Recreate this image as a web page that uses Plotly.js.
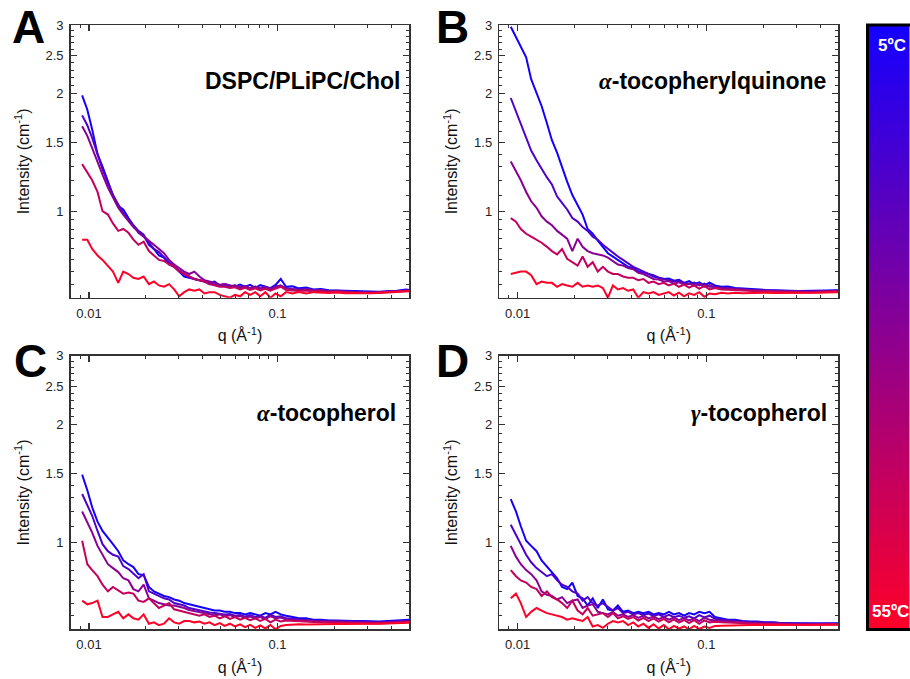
<!DOCTYPE html>
<html><head><meta charset="utf-8">
<script src="https://cdn.plot.ly/plotly-3.0.1.min.js"></script>
<style>html,body{margin:0;padding:0;background:#fff;} #chart{width:910px;height:679px;}</style>
</head><body><div id="chart"></div>
<script>
// ---- data ----
const q = [0.0092, 0.0098, 0.0104, 0.0111, 0.0118, 0.0126, 0.0134, 0.0143, 0.0152, 0.0162,
  0.0172, 0.0183, 0.0195, 0.0208, 0.0221, 0.0235, 0.025, 0.0266, 0.0283, 0.0301,
  0.032, 0.034, 0.0362, 0.0385, 0.041, 0.0436, 0.0464, 0.0494, 0.0525, 0.0559,
  0.0595, 0.0633, 0.0673, 0.0716, 0.0762, 0.081, 0.0862, 0.0917, 0.0976, 0.104,
  0.111, 0.12, 0.13, 0.142, 0.155, 0.17, 0.187, 0.206, 0.228, 0.252,
  0.28, 0.31, 0.345, 0.385, 0.43, 0.48, 0.5];

const curveTemps = ['5ºC', '17.5ºC', '30ºC', '42.5ºC', '55ºC'];
const curveColors = ['#1400ff', '#4f00c9', '#8a0094', '#c4005e', '#ff0028'];

// Panel A: DSPC/PLiPC/Chol
const A1 = [1.98, 1.82, 1.62, 1.40, 1.30, 1.19, 1.10, 1.03, 1.01, 0.96,
  0.92, 0.89, 0.87, 0.82, 0.80, 0.77, 0.76, 0.73, 0.72, 0.70,
  0.68, 0.675, 0.67, 0.665, 0.66, 0.655, 0.66, 0.645, 0.65, 0.645,
  0.64, 0.648, 0.64, 0.647, 0.636, 0.646, 0.64, 0.635, 0.647, 0.67,
  0.64, 0.642, 0.634, 0.637, 0.63, 0.632, 0.627, 0.626, 0.624, 0.622,
  0.621, 0.62, 0.621, 0.623, 0.625, 0.63, 0.628];
const A2 = [1.76, 1.66, 1.54, 1.40, 1.28, 1.18, 1.10, 1.04, 0.99, 0.95,
  0.92, 0.88, 0.86, 0.83, 0.80, 0.785, 0.76, 0.74, 0.72, 0.705,
  0.69, 0.68, 0.67, 0.665, 0.66, 0.65, 0.652, 0.644, 0.647, 0.64,
  0.645, 0.636, 0.641, 0.634, 0.64, 0.633, 0.641, 0.63, 0.64, 0.645,
  0.635, 0.632, 0.63, 0.631, 0.627, 0.628, 0.624, 0.625, 0.622, 0.621,
  0.62, 0.619, 0.62, 0.622, 0.624, 0.627, 0.626];
const A3 = [1.65, 1.56, 1.45, 1.33, 1.24, 1.15, 1.08, 1.02, 0.98, 0.94,
  0.91, 0.885, 0.86, 0.84, 0.82, 0.80, 0.78, 0.75, 0.73, 0.715,
  0.70, 0.69, 0.70, 0.68, 0.665, 0.66, 0.655, 0.648, 0.65, 0.642,
  0.646, 0.638, 0.643, 0.635, 0.641, 0.634, 0.638, 0.632, 0.64, 0.645,
  0.633, 0.63, 0.628, 0.63, 0.626, 0.627, 0.623, 0.624, 0.621, 0.62,
  0.619, 0.618, 0.619, 0.621, 0.623, 0.626, 0.625];
const A4 = [1.32, 1.26, 1.20, 1.12, 1.00, 0.98, 0.93, 0.89, 0.90, 0.88,
  0.845, 0.82, 0.835, 0.79, 0.77, 0.75, 0.745, 0.73, 0.72, 0.70,
  0.69, 0.68, 0.67, 0.665, 0.66, 0.65, 0.645, 0.64, 0.64, 0.635,
  0.638, 0.63, 0.636, 0.628, 0.634, 0.626, 0.632, 0.625, 0.633, 0.64,
  0.628, 0.627, 0.624, 0.626, 0.622, 0.623, 0.62, 0.621, 0.619, 0.618,
  0.617, 0.617, 0.618, 0.62, 0.622, 0.625, 0.624];
const A5 = [0.845, 0.845, 0.80, 0.77, 0.75, 0.725, 0.70, 0.655, 0.70, 0.69,
  0.675, 0.67, 0.68, 0.65, 0.66, 0.645, 0.64, 0.65, 0.63, 0.605,
  0.62, 0.63, 0.625, 0.63, 0.615, 0.62, 0.62, 0.61, 0.605, 0.60,
  0.61, 0.605, 0.62, 0.61, 0.62, 0.605, 0.62, 0.60, 0.615, 0.605,
  0.62, 0.615, 0.62, 0.615, 0.62, 0.618, 0.617, 0.619, 0.616, 0.617,
  0.616, 0.616, 0.617, 0.619, 0.621, 0.624, 0.623];

// Panel B: alpha-tocopherylquinone
const B1 = [2.97, 2.80, 2.66, 2.48, 2.18, 2.02, 1.86, 1.68, 1.52, 1.41,
  1.29, 1.19, 1.10, 1.04, 0.98, 0.90, 0.875, 0.84, 0.81, 0.78,
  0.765, 0.75, 0.735, 0.72, 0.715, 0.70, 0.695, 0.69, 0.68, 0.675,
  0.67, 0.672, 0.663, 0.667, 0.655, 0.662, 0.65, 0.657, 0.645, 0.656,
  0.645, 0.64, 0.641, 0.635, 0.633, 0.632, 0.63, 0.628, 0.627, 0.625,
  0.625, 0.624, 0.624, 0.625, 0.626, 0.627, 0.627];
const B2 = [1.95, 1.80, 1.66, 1.53, 1.43, 1.35, 1.28, 1.22, 1.17, 1.09,
  1.05, 1.01, 0.96, 0.94, 0.91, 0.89, 0.86, 0.845, 0.82, 0.80,
  0.78, 0.765, 0.75, 0.735, 0.72, 0.71, 0.70, 0.69, 0.685, 0.675,
  0.67, 0.665, 0.66, 0.662, 0.654, 0.65, 0.656, 0.645, 0.652, 0.64,
  0.64, 0.636, 0.634, 0.632, 0.63, 0.629, 0.627, 0.626, 0.625, 0.624,
  0.623, 0.623, 0.622, 0.623, 0.624, 0.625, 0.625];
const B3 = [1.34, 1.27, 1.20, 1.12, 1.06, 1.02, 0.97, 0.94, 0.92, 0.89,
  0.87, 0.85, 0.79, 0.85, 0.81, 0.79, 0.78, 0.775, 0.77, 0.76,
  0.745, 0.73, 0.725, 0.715, 0.71, 0.695, 0.69, 0.68, 0.67, 0.668,
  0.66, 0.662, 0.652, 0.657, 0.648, 0.653, 0.643, 0.65, 0.64, 0.646,
  0.637, 0.634, 0.632, 0.63, 0.628, 0.627, 0.626, 0.625, 0.624, 0.623,
  0.622, 0.622, 0.621, 0.622, 0.623, 0.624, 0.624];
const B4 = [0.96, 0.94, 0.90, 0.875, 0.86, 0.845, 0.83, 0.81, 0.79, 0.775,
  0.80, 0.755, 0.74, 0.725, 0.765, 0.72, 0.74, 0.70, 0.72, 0.70,
  0.69, 0.69, 0.68, 0.675, 0.675, 0.665, 0.67, 0.655, 0.66, 0.65,
  0.655, 0.645, 0.652, 0.64, 0.648, 0.637, 0.645, 0.632, 0.643, 0.63,
  0.635, 0.63, 0.629, 0.627, 0.625, 0.624, 0.623, 0.622, 0.621, 0.62,
  0.62, 0.619, 0.619, 0.62, 0.621, 0.622, 0.622];
const B5 = [0.69, 0.695, 0.70, 0.70, 0.685, 0.65, 0.66, 0.655, 0.655, 0.64,
  0.65, 0.645, 0.64, 0.655, 0.64, 0.645, 0.64, 0.645, 0.635, 0.60,
  0.645, 0.63, 0.635, 0.625, 0.63, 0.60, 0.62, 0.615, 0.62, 0.61,
  0.615, 0.62, 0.608, 0.618, 0.605, 0.616, 0.61, 0.62, 0.603, 0.615,
  0.612, 0.618, 0.615, 0.618, 0.616, 0.617, 0.617, 0.618, 0.617, 0.617,
  0.616, 0.617, 0.617, 0.618, 0.619, 0.62, 0.62];

// Panel C: alpha-tocopherol
const C1 = [1.49, 1.36, 1.23, 1.13, 1.07, 1.03, 0.99, 0.95, 0.90, 0.88,
  0.865, 0.83, 0.825, 0.77, 0.75, 0.74, 0.73, 0.725, 0.715, 0.71,
  0.70, 0.695, 0.69, 0.685, 0.68, 0.675, 0.67, 0.67, 0.665, 0.665,
  0.66, 0.66, 0.655, 0.66, 0.655, 0.65, 0.66, 0.655, 0.665, 0.655,
  0.65, 0.645, 0.64, 0.64, 0.635, 0.635, 0.632, 0.632, 0.63, 0.63,
  0.63, 0.628, 0.628, 0.63, 0.632, 0.632, 0.635];
const C2 = [1.33, 1.25, 1.17, 1.07, 0.99, 0.95, 0.93, 0.92, 0.87, 0.855,
  0.83, 0.81, 0.83, 0.75, 0.74, 0.73, 0.72, 0.715, 0.70, 0.695,
  0.69, 0.68, 0.675, 0.67, 0.668, 0.662, 0.66, 0.658, 0.655, 0.656,
  0.65, 0.653, 0.646, 0.652, 0.644, 0.65, 0.642, 0.654, 0.645, 0.648,
  0.64, 0.638, 0.635, 0.634, 0.632, 0.631, 0.63, 0.629, 0.628, 0.627,
  0.627, 0.626, 0.626, 0.627, 0.628, 0.63, 0.631];
const C3 = [1.20, 1.13, 1.06, 0.98, 0.93, 0.88, 0.86, 0.84, 0.81, 0.80,
  0.76, 0.75, 0.78, 0.72, 0.71, 0.70, 0.695, 0.69, 0.69, 0.685,
  0.68, 0.672, 0.668, 0.664, 0.66, 0.657, 0.652, 0.655, 0.648, 0.652,
  0.645, 0.649, 0.642, 0.647, 0.64, 0.645, 0.637, 0.648, 0.64, 0.643,
  0.636, 0.634, 0.632, 0.631, 0.629, 0.628, 0.627, 0.626, 0.625, 0.625,
  0.624, 0.624, 0.624, 0.625, 0.626, 0.628, 0.629];
const C4 = [1.01, 0.88, 0.85, 0.82, 0.78, 0.75, 0.77, 0.755, 0.74, 0.745,
  0.74, 0.71, 0.705, 0.72, 0.70, 0.68, 0.69, 0.70, 0.675, 0.67,
  0.665, 0.66, 0.655, 0.65, 0.655, 0.645, 0.65, 0.64, 0.648, 0.638,
  0.645, 0.635, 0.642, 0.633, 0.64, 0.63, 0.638, 0.625, 0.635, 0.628,
  0.632, 0.63, 0.628, 0.627, 0.626, 0.625, 0.624, 0.623, 0.622, 0.622,
  0.621, 0.621, 0.621, 0.622, 0.623, 0.625, 0.626];
const C5 = [0.71, 0.695, 0.70, 0.71, 0.645, 0.645, 0.655, 0.665, 0.64, 0.655,
  0.64, 0.635, 0.655, 0.62, 0.625, 0.615, 0.62, 0.64, 0.625, 0.62,
  0.63, 0.63, 0.625, 0.628, 0.62, 0.625, 0.615, 0.622, 0.612, 0.62,
  0.61, 0.618, 0.608, 0.616, 0.605, 0.614, 0.603, 0.615, 0.60, 0.612,
  0.615, 0.617, 0.618, 0.617, 0.618, 0.618, 0.619, 0.619, 0.619, 0.62,
  0.62, 0.62, 0.62, 0.621, 0.622, 0.623, 0.624];

// Panel D: gamma-tocopherol
const D1 = [1.29, 1.20, 1.10, 1.01, 0.98, 0.95, 0.90, 0.87, 0.84, 0.81,
  0.77, 0.76, 0.79, 0.73, 0.72, 0.69, 0.72, 0.68, 0.715, 0.675,
  0.67, 0.69, 0.665, 0.67, 0.66, 0.665, 0.66, 0.665, 0.655, 0.66,
  0.655, 0.665, 0.655, 0.66, 0.65, 0.66, 0.655, 0.665, 0.66, 0.665,
  0.645, 0.64, 0.635, 0.635, 0.63, 0.628, 0.628, 0.625, 0.625, 0.622,
  0.622, 0.62, 0.62, 0.62, 0.622, 0.62, 0.622];
const D2 = [1.11, 1.05, 0.99, 0.93, 0.89, 0.86, 0.84, 0.82, 0.83, 0.80,
  0.78, 0.77, 0.75, 0.74, 0.71, 0.725, 0.70, 0.69, 0.70, 0.685,
  0.67, 0.68, 0.66, 0.665, 0.655, 0.66, 0.652, 0.658, 0.648, 0.655,
  0.645, 0.653, 0.644, 0.65, 0.642, 0.648, 0.64, 0.652, 0.643, 0.65,
  0.638, 0.635, 0.632, 0.63, 0.628, 0.626, 0.625, 0.624, 0.622, 0.621,
  0.62, 0.619, 0.619, 0.619, 0.62, 0.619, 0.62];
const D3 = [0.98, 0.92, 0.88, 0.85, 0.83, 0.80, 0.75, 0.735, 0.73, 0.715,
  0.725, 0.70, 0.71, 0.715, 0.68, 0.69, 0.695, 0.665, 0.66, 0.655,
  0.665, 0.65, 0.655, 0.645, 0.652, 0.642, 0.65, 0.64, 0.647, 0.637,
  0.645, 0.635, 0.643, 0.633, 0.641, 0.632, 0.64, 0.63, 0.642, 0.635,
  0.632, 0.63, 0.628, 0.626, 0.624, 0.623, 0.622, 0.621, 0.62, 0.619,
  0.618, 0.618, 0.617, 0.618, 0.618, 0.618, 0.619];
const D4 = [0.85, 0.82, 0.80, 0.79, 0.77, 0.76, 0.73, 0.75, 0.725, 0.715,
  0.70, 0.68, 0.71, 0.67, 0.655, 0.68, 0.65, 0.655, 0.66, 0.645,
  0.66, 0.64, 0.648, 0.638, 0.645, 0.632, 0.642, 0.63, 0.64, 0.628,
  0.638, 0.625, 0.636, 0.624, 0.634, 0.622, 0.633, 0.62, 0.632, 0.625,
  0.627, 0.625, 0.624, 0.622, 0.621, 0.62, 0.619, 0.618, 0.617, 0.617,
  0.616, 0.616, 0.616, 0.617, 0.617, 0.617, 0.618];
const D5 = [0.72, 0.74, 0.70, 0.645, 0.665, 0.68, 0.67, 0.66, 0.655, 0.65,
  0.645, 0.635, 0.64, 0.635, 0.63, 0.645, 0.61, 0.615, 0.605, 0.62,
  0.63, 0.625, 0.63, 0.615, 0.625, 0.61, 0.62, 0.605, 0.618, 0.603,
  0.615, 0.60, 0.612, 0.602, 0.61, 0.60, 0.612, 0.601, 0.61, 0.605,
  0.612, 0.613, 0.614, 0.614, 0.615, 0.615, 0.615, 0.615, 0.615, 0.615,
  0.614, 0.614, 0.614, 0.615, 0.615, 0.616, 0.616];

const panelLetters = ['A', 'B', 'C', 'D'];
const panelTitles = ['DSPC/PLiPC/Chol',
  '<span style="font-family:\'Liberation Serif\'"><i>α</i></span>-tocopherylquinone',
  '<span style="font-family:\'Liberation Serif\'"><i>α</i></span>-tocopherol',
  '<span style="font-family:\'Liberation Serif\'"><i>γ</i></span>-tocopherol'];
const xTickVals = [0.01, 0.1];
const xTickText = ['0.01', '0.1'];
const yTickVals = [1, 1.5, 2, 2.5, 3];
const yTickText = ['1', '1.5', '2', '2.5', '3'];
const scaleTemps = [55, 5];
const scaleLabels = ['5ºC', '55ºC'];

// ---- figure ----
const panels = [[A1, A2, A3, A4, A5], [B1, B2, B3, B4, B5], [C1, C2, C3, C4, C5], [D1, D2, D3, D4, D5]];
const W = 910, H = 679;
const px = v => v / W, py = v => 1 - v / H;
const xDom = [[70.7, 409.3], [499.3, 838.3], [70.7, 409.3], [499.3, 838.3]];
const yDom = [[25, 297.7], [25, 297.7], [355.7, 629.3], [355.7, 629.3]];

const xMinor = [0.009, 0.02, 0.03, 0.04, 0.05, 0.06, 0.07, 0.08, 0.09, 0.2, 0.3, 0.4, 0.5];
const yMinor = [0.65, 0.7, 0.75, 0.8, 0.85, 0.9, 0.95, 1.1, 1.2, 1.3, 1.4, 1.6, 1.7, 1.8, 1.9,
  2.1, 2.2, 2.3, 2.4, 2.6, 2.7, 2.8, 2.9];

const FONT = 'Liberation Sans, Arial, sans-serif';
const traces = [];
panels.forEach((curves, p) => {
  const sfx = p === 0 ? '' : String(p + 1);
  curves.forEach((vals, i) => {
    traces.push({
      type: 'scatter', mode: 'lines', x: q, y: vals,
      name: curveTemps[i], showlegend: false,
      xaxis: 'x' + sfx, yaxis: 'y' + sfx,
      line: {color: curveColors[i], width: 2}
    });
  });
});
// colour scale bar
traces.push({
  type: 'heatmap', x: [0, 1], y: [0, 1], z: [[scaleTemps[0], scaleTemps[0]], [scaleTemps[1], scaleTemps[1]]],
  zmin: 5, zmax: 55, zsmooth: 'best', showscale: false, hoverinfo: 'skip',
  colorscale: [[0, '#1400ff'], [1, '#ff0028']],
  xaxis: 'x5', yaxis: 'y5'
});

const layout = {
  width: W, height: H, margin: {l: 0, r: 0, t: 0, b: 0},
  paper_bgcolor: '#fff', plot_bgcolor: '#fff', showlegend: false,
  font: {family: FONT, color: '#111'},
  annotations: [], shapes: []
};
for (let p = 0; p < 4; p++) {
  const sfx = p === 0 ? '' : String(p + 1);
  layout['xaxis' + sfx] = {
    type: 'log', range: [Math.log10(0.008), Math.log10(0.5)],
    domain: [px(xDom[p][0]), px(xDom[p][1])], anchor: 'y' + sfx,
    tickmode: 'array', tickvals: xTickVals, ticktext: xTickText,
    ticks: 'inside', ticklen: 6, tickwidth: 1.2, tickcolor: '#333',
    showline: true, linecolor: '#333', linewidth: 1.5, mirror: 'allticks',
    showgrid: false, zeroline: false, ticklabelstandoff: 3,
    tickfont: {family: FONT, size: 13, color: '#222'},
    minor: {tickmode: 'array', tickvals: xMinor, ticks: 'inside', ticklen: 3, tickwidth: 1, tickcolor: '#333', showgrid: false},
    title: {text: 'q (Å<sup>-1</sup>)', font: {family: FONT, size: 16, color: '#111'}, standoff: 10}
  };
  layout['yaxis' + sfx] = {
    type: 'log', range: [Math.log10(0.6), Math.log10(3)],
    domain: [py(yDom[p][1]), py(yDom[p][0])], anchor: 'x' + sfx,
    tickmode: 'array', tickvals: yTickVals, ticktext: yTickText,
    ticks: 'inside', ticklen: 6, tickwidth: 1.2, tickcolor: '#333',
    showline: true, linecolor: '#333', linewidth: 1.5, mirror: 'allticks',
    showgrid: false, zeroline: false, ticklabelstandoff: 3,
    tickfont: {family: FONT, size: 13, color: '#222'},
    minor: {tickmode: 'array', tickvals: yMinor, ticks: 'inside', ticklen: 3, tickwidth: 1, tickcolor: '#333', showgrid: false},
    title: {text: 'Intensity (cm<sup>-1</sup>)', font: {family: FONT, size: 16, color: '#111'}, standoff: 12}
  };
}
layout.xaxis5 = {domain: [px(868.5), 1], range: [0, 1], visible: false, anchor: 'y5', fixedrange: true};
layout.yaxis5 = {domain: [py(628.5), py(26)], range: [0, 1], visible: false, anchor: 'x5', fixedrange: true};
layout.shapes.push({type: 'rect', xref: 'paper', yref: 'paper', x0: px(867.5), x1: 1.02, y0: py(629.5), y1: py(25),
  line: {color: '#000', width: 3}, fillcolor: 'rgba(0,0,0,0)'});

// panel letters
const letterPos = [[28, 27], [452, 27], [30, 361], [452, 361]];
panelLetters.forEach((t, p) => layout.annotations.push({
  text: '<b>' + t + '</b>', xref: 'paper', yref: 'paper', x: px(letterPos[p][0]), y: py(letterPos[p][1]),
  xanchor: 'center', yanchor: 'middle', showarrow: false,
  font: {family: FONT, size: 46, color: '#000'}
}));
// panel titles
const titlePos = [[403, 81], [828, 81], [398, 413], [829, 413]];
panelTitles.forEach((t, p) => layout.annotations.push({
  text: '<b>' + t + '</b>', xref: 'paper', yref: 'paper', x: px(titlePos[p][0]), y: py(titlePos[p][1]),
  xanchor: 'right', yanchor: 'middle', showarrow: false,
  font: {family: FONT, size: 23, color: '#000'}
}));
// colour bar labels
layout.annotations.push({text: '<b>' + scaleLabels[0] + '</b>', xref: 'paper', yref: 'paper', x: px(876), y: py(45.5),
  xanchor: 'left', yanchor: 'middle', showarrow: false, font: {family: FONT, size: 17, color: '#fff'}});
layout.annotations.push({text: '<b>' + scaleLabels[1] + '</b>', xref: 'paper', yref: 'paper', x: px(869.5), y: py(611),
  xanchor: 'left', yanchor: 'middle', showarrow: false, font: {family: FONT, size: 17, color: '#fff'}});

Plotly.newPlot('chart', traces, layout, {displayModeBar: false, staticPlot: true});
</script>
</body></html>
